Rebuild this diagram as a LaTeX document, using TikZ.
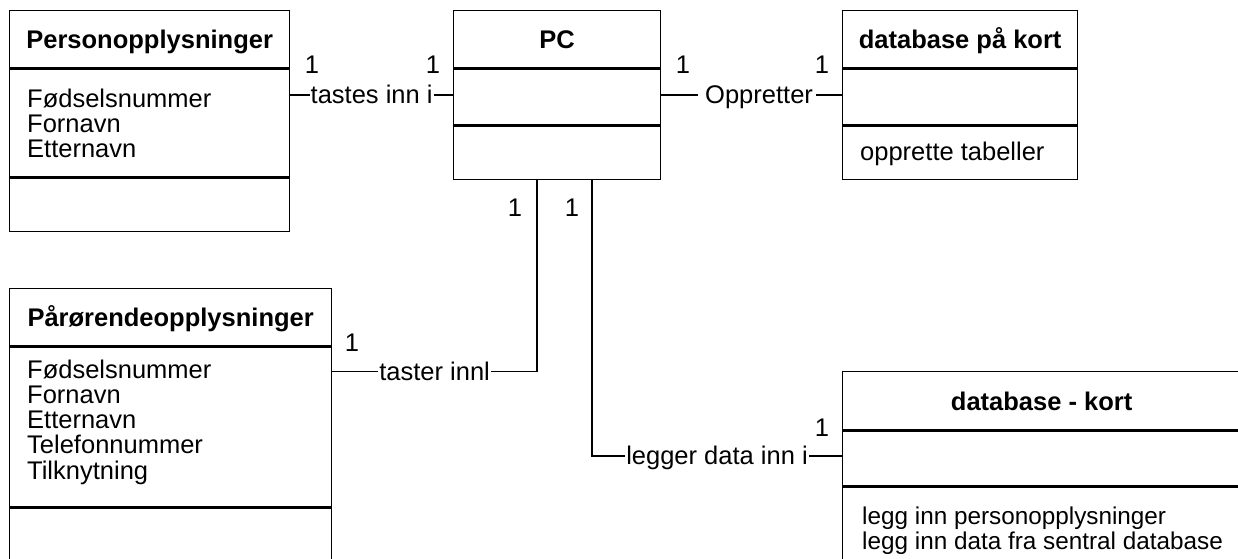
\documentclass[tikz,border=0pt]{standalone}
\usepackage{fontspec}
\setmainfont{Liberation Sans}
\tikzset{
  x=1pt, y=-1pt,
  every node/.style={font=\fontsize{25.5}{24.5}\selectfont},
  comp/.style={draw, line width=1.3pt, inner sep=0pt, anchor=north west, minimum width=#1},
  title/.style={anchor=base, inner sep=0pt, font=\fontsize{25.5}{24.5}\selectfont\bfseries},
  attr/.style={anchor=base west, inner sep=0pt},
  conn/.style={line width=1.3pt},
  lab/.style={fill=white, inner xsep=1pt, inner ysep=1.5pt, text height=18pt, text depth=0pt},
  mult/.style={inner sep=0pt}
}
% class box: name, x, y, width, heights of the three compartments
\newcommand\classbox[7]{%
  \node[comp=#4, minimum height=#5] (#1-t) at (#2,#3) {};
  \node[comp=#4, minimum height=#6] (#1-a) at (#1-t.south west) {};
  \node[comp=#4, minimum height=#7] (#1-m) at (#1-a.south west) {};
}
\begin{document}
\begin{tikzpicture}
\path[use as bounding box, fill=white] (0,0) rectangle (1238,558);

% classes
\classbox{pers}{9}{10}{280}{57}{108}{53}
\classbox{pc}{453}{10}{207}{57}{56}{53}
\classbox{dbp}{842}{10}{235}{57}{56}{53}
\classbox{paar}{9}{288}{322}{57}{160}{62}
\classbox{dbk}{842}{371}{410}{58}{55}{95}

% class names
\node[title] (pers-n) at ([yshift=-38pt]pers-t.north) {Personopplysninger};
\node[title] (pc-n) at ([yshift=-38pt]pc-t.north) {PC};
\node[title] (dbp-n) at ([yshift=-38pt]dbp-t.north) {database på kort};
\node[title] (paar-n) at ([yshift=-38pt]paar-t.north) {Pårørendeopplysninger};
\node[title] (dbk-n) at ([xshift=-6pt, yshift=-39pt]dbk-t.north) {database - kort};

% attributes and operations
\node[attr] (pers-x) at ([xshift=18pt, yshift=-39pt]pers-a.north west)
  {\begin{tabular}[t]{@{}l@{}}Fødselsnummer\\Fornavn\\Etternavn\end{tabular}};
\node[attr] (paar-x) at ([xshift=18pt, yshift=-32pt]paar-a.north west)
  {\begin{tabular}[t]{@{}l@{}}Fødselsnummer\\Fornavn\\Etternavn\\Telefonnummer\\Tilknytning\end{tabular}};
\node[attr] (dbp-x) at ([xshift=18pt, yshift=-35pt]dbp-m.north west) {opprette tabeller};
\node[attr, font=\fontsize{24.3}{24}\selectfont] (dbk-x) at ([xshift=20pt, yshift=-38pt]dbk-m.north west)
  {\begin{tabular}[t]{@{}l@{}}legg inn personopplysninger\\legg inn data fra sentral database\end{tabular}};

% connector end points
\coordinate (pcl) at ([yshift=2pt]pc-a.west);
\coordinate (pcr) at ([yshift=2pt]pc-a.east);
\coordinate (v1) at ([xshift=84pt]pc-m.south west);
\coordinate (v2) at ([xshift=139pt]pc-m.south west);
\coordinate (p1) at ([yshift=-25pt]paar-a.north east);
\coordinate (d1) at ([yshift=2.5pt]dbk-a.west);

% associations
\draw[conn] (pcl -| pers-a.east) -- node[lab] (l1) {tastes inn i} (pcl);
\draw[conn] (pcr) -- node[lab, pos=0.53, inner xsep=3pt] (l2) {\hspace{4pt}Oppretter} (pcr -| dbp-a.west);
\draw[conn] (p1) -- node[lab] (l3) {taster innl} (p1 -| v1) -- (v1);
\draw[conn] (v2) |- node[lab, pos=0.75] (l4) {legger data inn i} (d1);

% multiplicities
\node[mult] (m1) at (312,65) {1};
\node[mult] (m2) at (433,65) {1};
\node[mult] (m3) at (683,65) {1};
\node[mult] (m4) at (822,65) {1};
\node[mult] (m5) at (352,343) {1};
\node[mult] (m6) at (515,208) {1};
\node[mult] (m7) at (572,208) {1};
\node[mult] (m8) at (822,428) {1};
\end{tikzpicture}
\end{document}
